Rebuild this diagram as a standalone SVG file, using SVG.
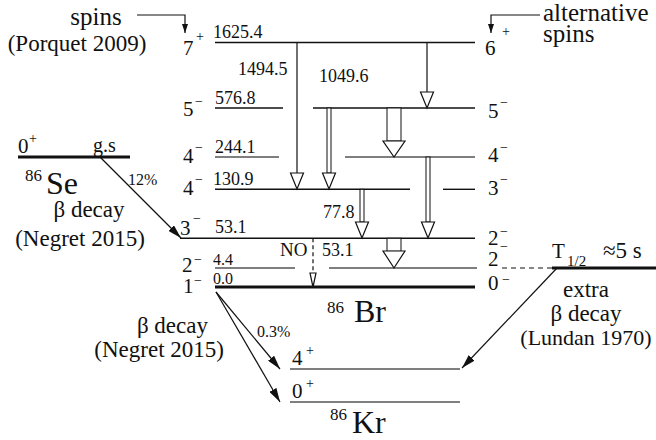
<svg xmlns="http://www.w3.org/2000/svg" width="656" height="440" viewBox="0 0 656 440">
<defs>
<marker id="beta" viewBox="0 0 14 8" refX="14" refY="4" markerWidth="14" markerHeight="8" markerUnits="userSpaceOnUse" orient="auto"><path d="M0,0 L14,4 L0,8 z" fill="#111"/></marker>
<marker id="ptr" viewBox="0 0 9 6" refX="9" refY="3" markerWidth="9" markerHeight="6" markerUnits="userSpaceOnUse" orient="auto"><path d="M0,0 L9,3 L0,6 z" fill="#111"/></marker>
</defs>
<style>
text{font-family:"Liberation Serif","Times New Roman",serif;fill:#111}
.lab{font-size:23px}
.big{font-size:25px}
.en{font-size:18px}
.es{font-size:16px}
.sp{font-size:21px}
.sup{font-size:14px}
.nuc{font-size:32px}
.mass{font-size:17px}
.lv{stroke:#111;stroke-width:1.4;fill:none}
.lg{stroke:#555;stroke-width:1.6;fill:none}
.thick{stroke:#111;stroke-width:3;fill:none}
.g{stroke:#111;stroke-width:1.2;fill:none}
.tri{fill:#fff;stroke:#111;stroke-width:1.2}
.dbl{fill:#fff;stroke:#111;stroke-width:1}
.b{stroke:#111;stroke-width:1.2;fill:none;marker-end:url(#beta)}
.p{stroke:#111;stroke-width:1.2;fill:none;marker-end:url(#ptr)}
</style>

<g id="notes">
<text class="big" x="96" y="25" text-anchor="middle">spins</text>
<text class="lab" x="77" y="51" text-anchor="middle">(Porquet 2009)</text>
<text class="big" x="543" y="21">alternative</text>
<text class="big" x="543" y="42">spins</text>
</g>

<g id="lvl-1625">
<line class="lv" x1="215" y1="42.5" x2="475" y2="42.5"/>
<text class="sp" x="183" y="55">7</text><text class="sup" x="196" y="41">+</text>
<text class="en" x="213" y="38">1625.4</text>
<text class="sp" x="485" y="55">6</text><text class="sup" x="502" y="36">+</text>
</g>

<g id="lvl-576">
<line class="lv" x1="215" y1="108" x2="283" y2="108"/>
<line class="lv" x1="313" y1="108" x2="475" y2="108"/>
<text class="sp" x="183" y="116">5</text><text class="sup" x="195" y="106">−</text>
<text class="en" x="215" y="104">576.8</text>
<text class="sp" x="488" y="118">5</text><text class="sup" x="500" y="107">−</text>
</g>

<g id="lvl-244">
<line class="lg" x1="215" y1="157" x2="279" y2="157"/>
<line class="lg" x1="345" y1="157" x2="475" y2="157"/>
<text class="sp" x="183" y="163">4</text><text class="sup" x="195" y="152">−</text>
<text class="en" x="215" y="153">244.1</text>
<text class="sp" x="488" y="162">4</text><text class="sup" x="500" y="152">−</text>
</g>

<g id="lvl-130">
<line class="lv" x1="215" y1="189.3" x2="410" y2="189.3"/>
<line class="lv" x1="443" y1="189.3" x2="475" y2="189.3"/>
<text class="sp" x="183" y="195">4</text><text class="sup" x="195" y="184">−</text>
<text class="en" x="213" y="185">130.9</text>
<text class="sp" x="488" y="195">3</text><text class="sup" x="500" y="184">−</text>
</g>

<g id="lvl-53">
<line class="lv" x1="180" y1="238.3" x2="475" y2="238.3"/>
<text class="sp" x="180" y="235">3</text><text class="sup" x="193" y="223">−</text>
<text class="en" x="215" y="233">53.1</text>
<text class="sp" x="488" y="245">2</text><text class="sup" x="500" y="236">−</text>
</g>

<g id="lvl-4">
<line class="lg" x1="215" y1="268" x2="295" y2="268"/>
<line class="lg" x1="329" y1="268" x2="477" y2="268"/>
<text class="sp" x="182" y="272">2</text><text class="sup" x="194" y="264">−</text>
<text class="es" x="213" y="265">4.4</text>
<text class="sp" x="488" y="266">2</text><text class="sup" x="500" y="251">−</text>
</g>

<g id="lvl-0">
<line class="thick" x1="215" y1="287" x2="475" y2="287"/>
<text class="sp" x="183" y="293">1</text><text class="sup" x="194" y="285">−</text>
<text class="es" x="213" y="284">0.0</text>
<text class="sp" x="488" y="290">0</text><text class="sup" x="502" y="284">−</text>
</g>

<g id="isomer">
<line class="g" x1="502" y1="268" x2="552" y2="268" stroke-dasharray="5,4"/>
<line class="thick" x1="552" y1="268" x2="656" y2="268"/>
<text x="552" y="258" font-size="21">T</text>
<text x="567" y="266" font-size="15">1/2</text>
<text x="603" y="258" font-size="23">≈5 s</text>
<text class="lab" x="586" y="297" text-anchor="middle">extra</text>
<text class="lab" x="586" y="321" text-anchor="middle">β decay</text>
<text x="586" y="345" font-size="22" text-anchor="middle">(Lundan 1970)</text>
</g>

<g id="br86">
<text class="mass" x="327" y="313">86</text>
<text class="nuc" x="354" y="322">Br</text>
</g>

<g id="se86">
<line class="thick" x1="18" y1="157" x2="130" y2="157"/>
<text class="sp" x="18" y="153">0</text><text class="sup" x="29" y="143">+</text>
<text x="93" y="152" font-size="20">g.s</text>
<text class="mass" x="25" y="181">86</text>
<text class="nuc" x="46" y="194">Se</text>
<text class="lab" x="89" y="217" text-anchor="middle">β decay</text>
<text class="lab" x="80" y="246" text-anchor="middle">(Negret 2015)</text>
</g>

<g id="kr86">
<line class="lg" x1="290" y1="369" x2="460" y2="369"/>
<text class="sp" x="292" y="365">4</text><text class="sup" x="306" y="355">+</text>
<line class="lg" x1="290" y1="402" x2="460" y2="402"/>
<text class="sp" x="292" y="398">0</text><text class="sup" x="306" y="388">+</text>
<text class="mass" x="330" y="420">86</text>
<text class="nuc" x="352" y="433">Kr</text>
<text class="lab" x="208" y="333" text-anchor="end">β decay</text>
<text class="lab" x="224" y="357" text-anchor="end">(Negret 2015)</text>
</g>

<g id="connectors">
<polyline class="p" points="137,15 185,15 185,33"/>
<polyline class="p" points="540,15 491,15 491,33"/>

<line class="g" x1="297" y1="42.5" x2="297" y2="173"/>
<polygon class="tri" points="290.5,173 303.5,173 297,189"/>
<line class="g" x1="427" y1="42.5" x2="427" y2="92"/>
<polygon class="tri" points="420.5,92 433.5,92 427,108"/>
<text class="en" x="238" y="75">1494.5</text>
<text class="en" x="319" y="82">1049.6</text>

<rect class="dbl" x="327" y="108" width="4" height="65"/>
<polygon class="tri" points="322.5,173 335.5,173 329,189"/>

<rect class="dbl" x="387" y="108" width="14" height="33"/>
<polygon class="tri" points="383,141 405,141 394,157"/>

<rect class="dbl" x="426" y="157" width="4" height="65"/>
<polygon class="tri" points="421.5,222 434.5,222 428,238"/>

<rect class="dbl" x="360" y="189.3" width="4" height="32.7"/>
<polygon class="tri" points="355.5,222 368.5,222 362,238"/>
<text class="en" x="323" y="218">77.8</text>

<rect class="dbl" x="387" y="238.3" width="14" height="13"/>
<polygon class="tri" points="383,251 405,251 394,268"/>

<line class="g" x1="313" y1="238.3" x2="313" y2="273" stroke-dasharray="4,3"/>
<polygon class="tri" points="310,273 316,273 313,287"/>
<text x="280" y="256" font-size="19">NO</text>
<text class="en" x="322" y="256">53.1</text>

<line class="b" x1="100" y1="157" x2="181" y2="238"/>
<text class="es" x="128" y="185">12%</text>

<line class="b" x1="216" y1="292" x2="280" y2="369"/>
<line class="b" x1="216" y1="292" x2="280" y2="402"/>
<text class="es" x="257" y="337">0.3%</text>

<line class="b" x1="557" y1="268" x2="462" y2="368"/>
</g>
</svg>
